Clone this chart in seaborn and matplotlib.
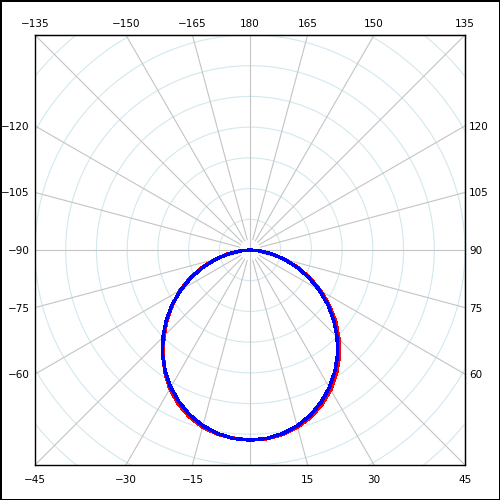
import numpy as np
import pandas as pd
import seaborn as sns
import matplotlib.pyplot as plt
from matplotlib.patches import Circle

angles = [-90, -85, -80, -75, -70, -65, -60, -55, -50, -45, -40, -35, -30, -25, -20, -15, -10, -5,
          0, 5, 10, 15, 20, 25, 30, 35, 40, 45, 50, 55, 60, 65, 70, 75, 80, 85, 90]
r_red = [0.0, 0.31, 0.72, 1.18, 1.66, 2.14, 2.63, 3.07, 3.52, 3.96, 4.40, 4.84, 5.22, 5.53, 5.78, 5.97, 6.09, 6.15,
         6.19, 6.17, 6.10, 5.97, 5.79, 5.55, 5.26, 4.91, 4.53, 4.10, 3.65, 3.16, 2.66, 2.15, 1.65, 1.16, 0.71, 0.30, 0.0]
r_blue = [0.0, 0.29, 0.69, 1.14, 1.62, 2.11, 2.60, 3.09, 3.56, 4.01, 4.43, 4.82, 5.16, 5.46, 5.72, 5.92, 6.07, 6.16,
          6.19, 6.16, 6.07, 5.93, 5.73, 5.47, 5.17, 4.82, 4.44, 4.01, 3.56, 3.09, 2.60, 2.11, 1.62, 1.14, 0.69, 0.29, 0.0]

# grid and frame definitions...
R = 7.0
grid_angles = list(range(-180, 180, 15))
ring_radii = [1, 2, 3, 4, 5, 6, 7, 8, 9, 10]
bottom_labels = [-45, -30, -15, 15, 30, 45]
top_labels = [-135, -150, -165, 180, 165, 150, 135]
left_labels = [-120, -105, -90, -75, -60]
right_labels = [120, 105, 90, 75, 60]


def to_xy(theta_deg, r):
    t = np.radians(np.asarray(theta_deg, dtype=float))
    r = np.asarray(r, dtype=float)
    return r * np.sin(t), -r * np.cos(t)


def fmt(v):
    return str(v).replace('-', '\u2212')


sns.set_style('white')
plt.rcParams['font.family'] = ['DejaVu Sans']

fig = plt.figure(figsize=(5, 5), dpi=100, edgecolor='black', linewidth=2)
ax = fig.add_axes([0.07, 0.07, 0.86, 0.86])
ax.set_xlim(-R, R)
ax.set_ylim(-R, R)
ax.set_aspect('equal')

# rings first, then spokes over them...
for rr in ring_radii:
    ax.add_patch(Circle((0, 0), rr, fill=False, edgecolor='#d2e8ef', lw=0.8, zorder=1))
for a in grid_angles:
    r0 = 0.0 if a % 90 == 0 else 0.35
    x, y = to_xy([a, a], [r0, 12])
    ax.plot(x, y, color='#c4c4c4', lw=0.8, zorder=2)

# the two measured curves...
frames = []
for name, rr in [('red', r_red), ('blue', r_blue)]:
    x, y = to_xy(angles, rr)
    frames.append(pd.DataFrame({'x': x, 'y': y, 'series': name}))
df = pd.concat(frames, ignore_index=True)
sns.lineplot(data=df, x='x', y='y', hue='series', palette={'red': '#ff0000', 'blue': '#0000ff'},
             sort=False, estimator=None, legend=False, lw=1.8, ax=ax, zorder=3)
for line in ax.lines[-2:]:
    line.set_antialiased(False)

# tick labels where spokes meet the frame...
ax.set_xticks([R * np.tan(np.radians(a)) for a in bottom_labels], [fmt(a) for a in bottom_labels])
ax.set_yticks([R / np.tan(np.radians(a)) for a in left_labels], [fmt(a) for a in left_labels])
ax.tick_params(axis='x', length=0, pad=7, labelsize=7.5, labelcolor='black')
ax.tick_params(axis='y', length=0, pad=4, labelsize=7.5, labelcolor='black')
ax.set_xlabel('')
ax.set_ylabel('')

top = ax.secondary_xaxis('top')
top.set_xticks([-R * np.tan(np.radians(a)) for a in top_labels], [fmt(a) for a in top_labels])
top.tick_params(length=0, pad=4, labelsize=7.5, labelcolor='black')
right = ax.secondary_yaxis('right')
right.set_yticks([-R / np.tan(np.radians(a)) for a in right_labels], [fmt(a) for a in right_labels])
right.tick_params(length=0, pad=3, labelsize=7.5, labelcolor='black')

for s in ax.spines.values():
    s.set_color('black')
    s.set_linewidth(1)
    s.set_zorder(5)

fig.savefig('out.png', dpi=100, facecolor='white', edgecolor='black')
